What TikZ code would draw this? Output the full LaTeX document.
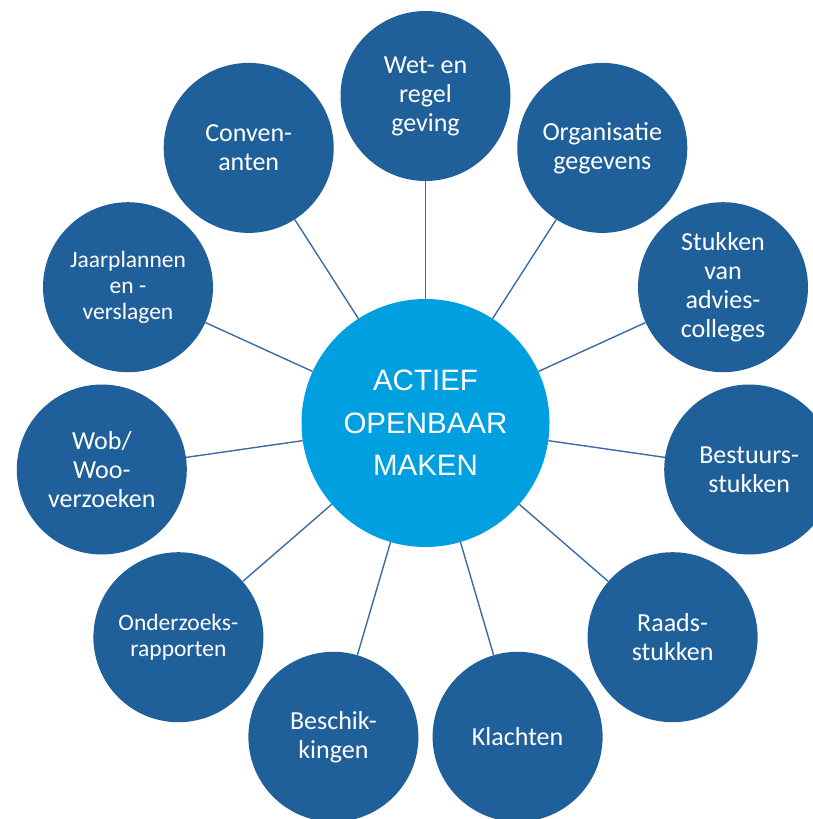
\documentclass[tikz,border=0pt]{standalone}
\usepackage{fontspec}
\setmainfont{Carlito}
\newfontfamily\arialfont{Liberation Sans}
\definecolor{darkblue}{HTML}{1F5F9A}
\definecolor{lightblue}{HTML}{009FE0}
\definecolor{linkblue}{HTML}{3A6BA5}
\begin{document}
\begin{tikzpicture}[x=1pt,y=-1pt,
  outer/.style={circle, fill=darkblue, minimum size=170pt, inner sep=0pt,
    text=white, align=center, font=\fontsize{26}{29}\selectfont},
  outersmall/.style={outer, font=\fontsize{23.5}{26}\selectfont},
  hub/.style={circle, fill=lightblue, minimum size=248pt, inner sep=0pt,
    text=white, align=center, font=\arialfont\fontsize{29.5}{42.5}\selectfont},
  link/.style={draw=linkblue, line width=1.4pt}]
\useasboundingbox (0,0) rectangle (813,819);
\node[hub] (c) at (425.5,423) {ACTIEF\\OPENBAAR\\MAKEN};
\node[outer] (o0) at (425.5,96) {Wet- en\\regel\\geving};
\node[outer] (o1) at (602.3,147.9) {Organisatie\\gegevens};
\node[outer] (o2) at (723,287.2) {Stukken\\van\\advies-\\colleges};
\node[outer] (o3) at (749.2,469.5) {Bestuurs-\\stukken};
\node[outer] (o4) at (672.6,637.2) {Raads-\\stukken};
\node[outer] (o5) at (517.6,736.8) {Klachten};
\node[outer] (o6) at (333.4,736.8) {Beschik-\\kingen};
\node[outersmall] (o7) at (178.4,637.2) {Onderzoeks-\\rapporten};
\node[outer] (o8) at (101.8,469.5) {Wob/\\Woo-\\verzoeken};
\node[outersmall] (o9) at (128,287.2) {Jaarplannen\\en -\\verslagen};
\node[outer] (o10) at (248.7,147.9) {Conven-\\anten};
\foreach \i in {0,...,10} {\draw[link] (c) -- (o\i);}
\end{tikzpicture}
\end{document}
